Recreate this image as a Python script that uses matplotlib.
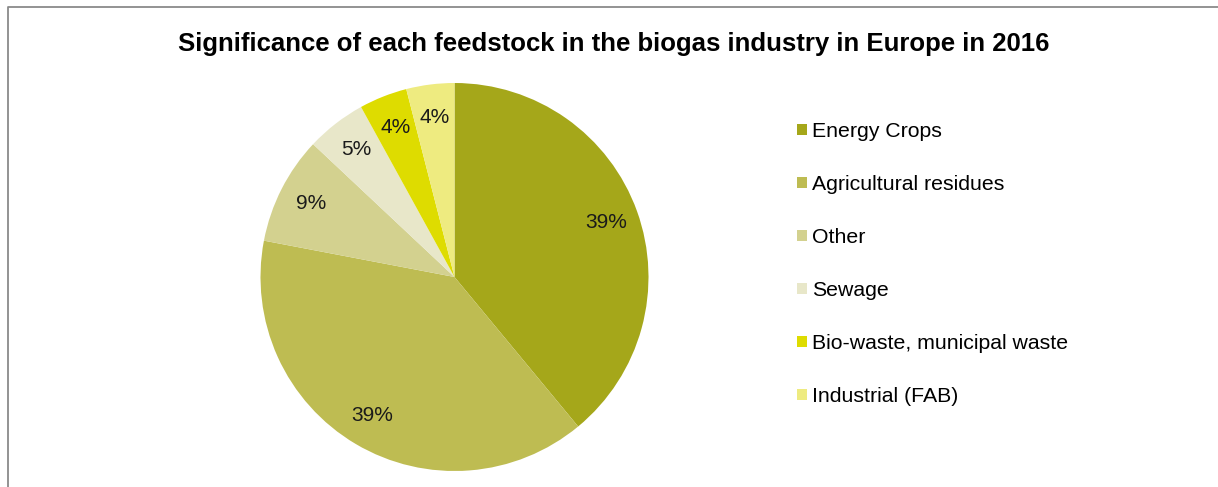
import matplotlib
matplotlib.use("Agg")
import matplotlib.pyplot as plt
from matplotlib.lines import Line2D
from matplotlib.patches import Patch

plt.rcParams['font.family'] = ['Liberation Sans', 'DejaVu Sans']

categories = ["Energy Crops", "Agricultural residues", "Other", "Sewage",
              "Bio-waste, municipal waste", "Industrial (FAB)"]
shares = [39, 39, 9, 5, 4, 4]
colors = ["#A5A71A", "#BEBC52", "#D3D18F", "#E8E7C9", "#DEDC00", "#EEEB80"]
title = "Significance of each feedstock in the biogas industry in Europe in 2016"

W, H = 1218, 487
fig = plt.figure(figsize=(W / 100, H / 100), dpi=100)

# outer chart frame (top and left edges visible)
fig.add_artist(Line2D([7.5 / W, 7.5 / W, 1.0], [0.0, 1 - 6.5 / H, 1 - 6.5 / H],
                      transform=fig.transFigure, color="#8A8A8A", lw=1.3))

cx, cy, r = 454.5, 277, 194
ax = fig.add_axes([(cx - r) / W, (H - cy - r) / H, 2 * r / W, 2 * r / H])
wedges, texts, autotexts = ax.pie(
    shares, colors=colors, startangle=90, counterclock=False,
    autopct=lambda p: f"{p:.0f}%", pctdistance=0.83,
    textprops=dict(fontsize=15, color="#1a1a1a"),
    wedgeprops=dict(linewidth=0))
ax.set_xlim(-1, 1)
ax.set_ylim(-1, 1)
ax.set_aspect("equal")
ax.axis("off")

fig.text(614 / W, 1 - 44 / H, title, ha="center", va="center",
         fontsize=18.5, fontweight="bold", color="#000000")

handles = [Patch(facecolor=c, edgecolor="none") for c in colors]
fig.legend(handles, categories, loc="upper left",
           bbox_to_anchor=(797 / W, 1 - 122 / H), frameon=False,
           fontsize=15.3, handlelength=0.47, handleheight=0.47,
           handletextpad=0.25, labelspacing=1.6, borderaxespad=0,
           borderpad=0)

fig.savefig("out.png", dpi=100, facecolor="white")
